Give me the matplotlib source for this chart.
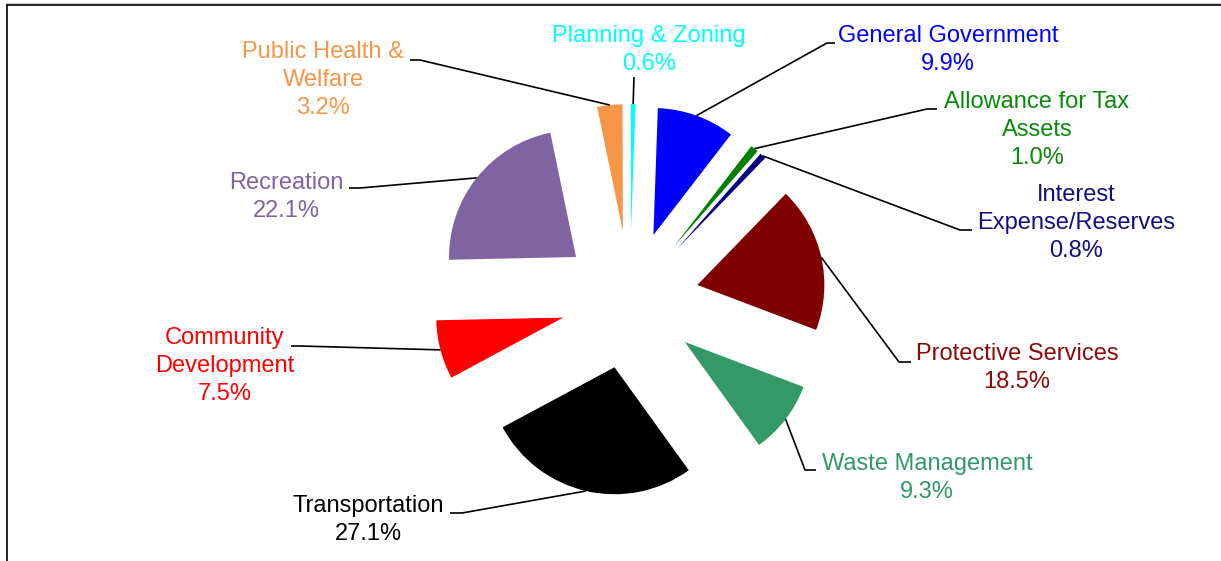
import matplotlib
matplotlib.use("Agg")
import matplotlib.pyplot as plt
import numpy as np

# budget shares, clockwise from the top
categories = ["General Government", "Allowance for Tax\nAssets", "Interest\nExpense/Reserves",
              "Protective Services", "Waste Management", "Transportation",
              "Community\nDevelopment", "Recreation", "Public Health &\nWelfare",
              "Planning & Zoning"]
shares = [9.9, 1.0, 0.8, 18.5, 9.3, 27.1, 7.5, 22.1, 3.2, 0.6]
colors = ["#0000FF", "#008000", "#000080", "#800000", "#339966",
          "#000000", "#FF0000", "#8064A2", "#F79646", "#00FFFF"]
text_colors = ["#0000FF", "#0A8A0A", "#10107F", "#8B0A0A", "#339966",
               "#000000", "#FF0000", "#8064A2", "#F79646", "#00FFFF"]

W, H = 1221, 561


def px(x, y):
    # pixel position (origin top-left) -> data coords
    return x, H - y


# label block centres and leader elbows, in pixels
label_pos = [(948, 50), (1037, 130), (1076, 223), (1017, 368), (927, 478),
             (368, 520), (225, 366), (286, 197), (323, 80), (649, 50)]
elbows = [[(827, 43), (835, 43)],
          [(927, 109), (937, 109)],
          [(960, 230), (972, 230)],
          [(899, 362), (911, 362)],
          [(805, 470), (816, 470)],
          [(462, 513), (450, 513)],
          [(300, 346), (291, 346)],
          [(360, 188), (349, 188)],
          [(420, 60), (410, 60)],
          [(634, 77)]]

fig = plt.figure(figsize=(W / 100, H / 100), dpi=100)
ax = fig.add_axes([0, 0, 1, 1])

R = 127
wedges, _ = ax.pie(shares, colors=colors, startangle=88, counterclock=False,
                   radius=R, center=px(630, 300), explode=[69] * len(shares),
                   wedgeprops=dict(linewidth=0))
ax.set_xlim(0, W)
ax.set_ylim(0, H)
ax.set_aspect("auto")
ax.axis("off")

for w, lab, val, tc, (lx, ly), elb in zip(wedges, categories, shares, text_colors,
                                          label_pos, elbows):
    tm = np.deg2rad((w.theta1 + w.theta2) / 2)
    cx, cy = w.center
    sx = cx + w.r * np.cos(tm)
    sy = cy + w.r * np.sin(tm)
    pts = [(sx, sy)] + [px(*p) for p in elb]
    xs, ys = zip(*pts)
    ax.plot(xs, ys, color="black", lw=1.2, solid_capstyle="butt")
    ax.text(*px(lx, ly), f"{lab}\n{val:.1f}%", color=tc, fontsize=17,
            family="Liberation Sans", ha="center", va="center",
            multialignment="center", linespacing=1.33)

# chart frame (top and left edges visible)
ax.plot([7, W], [H - 2.5, H - 2.5], color="#C8C8C8", lw=0.8)
ax.plot([7, W], [H - 4.5, H - 4.5], color="black", lw=1.2)
ax.plot([7, 7], [0, H - 4.5], color="black", lw=1.2)

fig.savefig("out.png", dpi=100)
